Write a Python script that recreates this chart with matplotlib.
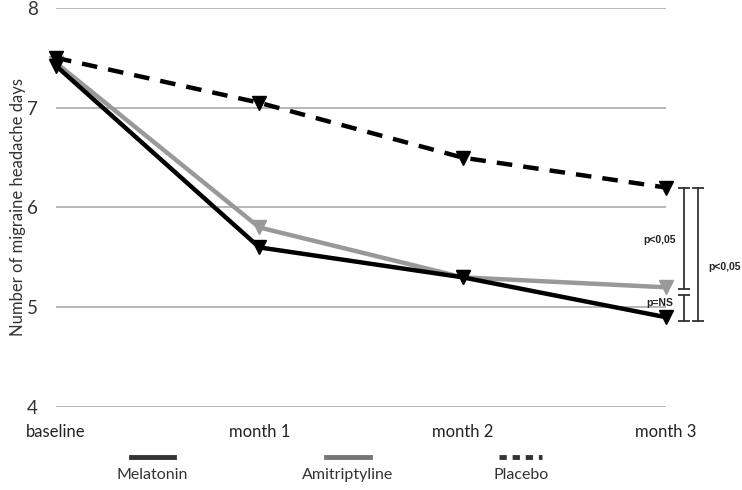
import matplotlib
matplotlib.use("Agg")
from matplotlib import pyplot as plt, rcParams
from matplotlib.lines import Line2D

rcParams.update({
    'font.family': ['Lato', 'DejaVu Sans'],
    'font.size': 11,
})

timepoints = ["baseline", "month 1", "month 2", "month 3"]
melatonin = [7.42, 5.6, 5.3, 4.9]
amitriptyline = [7.45, 5.8, 5.3, 5.2]
placebo = [7.5, 7.05, 6.5, 6.2]

# significance brackets: (x, low, high, label, label_x, label_y)
brackets = [
    (3.09, 5.18, 6.2, "p<0,05", 2.97, 5.67),
    (3.09, 4.86, 5.12, "p=NS", 2.97, 5.04),
    (3.16, 4.86, 6.2, "p<0,05", 3.29, 5.40),
]

fig = plt.figure(figsize=(7.42, 4.9), dpi=100)
ax = fig.add_axes([0.0755, 0.1694, 0.822, 0.8143])

x = list(range(len(timepoints)))
ax.plot(x, amitriptyline, color='#999999', lw=3.2, marker='v', ms=10,
        clip_on=False, zorder=3)
ax.plot(x, placebo, color='black', lw=3.2, ls=(0, (3.5, 2.5)), marker='v',
        ms=10, clip_on=False, zorder=3)
ax.plot(x, melatonin, color='black', lw=3.2, marker='v', ms=10,
        clip_on=False, zorder=4)

for bx, lo, hi, label, tx, ty in brackets:
    ax.plot([bx, bx], [lo, hi], color='#333333', lw=1.3, clip_on=False)
    ax.plot([bx, bx], [lo, hi], ls='none', marker='_', ms=8, mew=1.3,
            color='#333333', clip_on=False)
    ax.text(tx, ty, label, fontsize=7.5, fontweight='bold', ha='center',
            va='center', family=['Liberation Sans'], color='#222222')

ax.set_xlim(0, 3)
ax.set_ylim(4, 8)
ax.set_yticks([4, 5, 6, 7, 8])
ax.set_xticks(x)
ax.set_xticklabels(timepoints, fontsize=12)
ax.tick_params(axis='y', length=0, pad=13, labelsize=13.5, colors='#333333')
ax.tick_params(axis='x', length=0, pad=12, colors='#222222')
ax.grid(axis='y', color='#aaaaaa', lw=1.2)
ax.set_axisbelow(True)
for s in ax.spines.values():
    s.set_visible(False)
ax.set_ylabel("Number of migraine headache days", fontsize=12,
              color='#333333', labelpad=1)

# legend with handle above label
legend_items = [
    ("Melatonin", '#333333', '-', 0.205),
    ("Amitriptyline", '#777777', '-', 0.469),
    ("Placebo", '#333333', (0, (1.5, 1.2)), 0.702),
]
for name, col, ls, cx in legend_items:
    fig.add_artist(Line2D([cx - 0.029, cx + 0.029], [0.067, 0.067],
                          color=col, lw=3.5, ls=ls, transform=fig.transFigure))
    fig.text(cx, 0.030, name, ha='center', va='center', fontsize=11.5,
             color='#333333')

fig.savefig("out.png", dpi=100)
